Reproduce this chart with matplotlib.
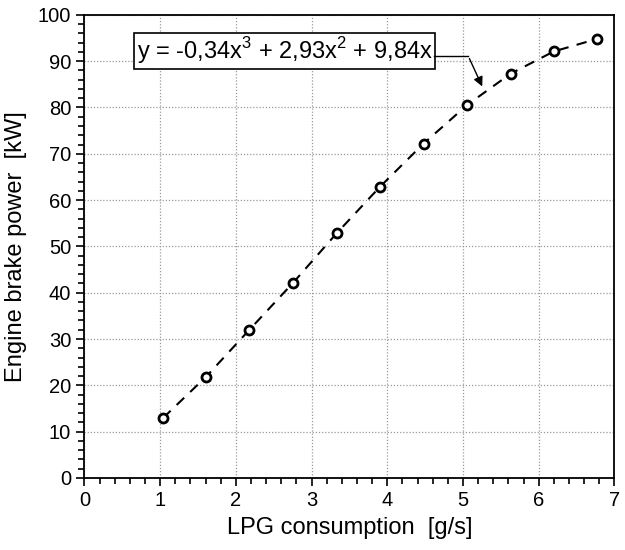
import matplotlib.pyplot as plt
from matplotlib.ticker import MultipleLocator

plt.rcParams['font.family'] = ['Liberation Sans', 'DejaVu Sans']
plt.rcParams['mathtext.fontset'] = 'custom'
plt.rcParams['mathtext.rm'] = 'Liberation Sans'

# measured points
lpg = [1.04, 1.61, 2.18, 2.76, 3.33, 3.90, 4.48, 5.06, 5.63, 6.20, 6.77]
power = [12.96, 21.9, 32.0, 42.2, 52.8, 62.8, 72.2, 80.6, 87.3, 92.1, 94.8]
eq_text = r"y = -0,34x$^{\mathrm{3}}$ + 2,93x$^{\mathrm{2}}$ + 9,84x"

fig = plt.figure(figsize=(6.25, 5.5), dpi=100)
ax = fig.add_axes([0.135, 0.131, 0.848, 0.842])

ax.plot(lpg, power, color='black', lw=1.5, ls=(0, (5, 4)), zorder=3)
ax.plot(lpg, power, 'o', ms=6.5, mfc='white', mec='black', mew=2, ls='none', zorder=4)

ax.set_xlim(0, 7)
ax.set_ylim(0, 100)
ax.xaxis.set_major_locator(MultipleLocator(1))
ax.xaxis.set_minor_locator(MultipleLocator(0.2))
ax.yaxis.set_major_locator(MultipleLocator(10))
ax.yaxis.set_minor_locator(MultipleLocator(2))
ax.tick_params(which='major', direction='out', length=6, width=1.2, labelsize=14.5)
ax.tick_params(which='minor', direction='out', length=4, width=1.2)
ax.grid(which='major', color='#9a9a9a', lw=0.9, ls=(0, (1, 1.5)))
ax.set_axisbelow(True)
for s in ax.spines.values():
    s.set_linewidth(1.3)

ax.set_xlabel('LPG consumption  [g/s]', fontsize=17, labelpad=5)
ax.set_ylabel('Engine brake power  [kW]', fontsize=17, labelpad=8)

# equation box + leader arrow
ax.text(0.69, 92.2, eq_text, fontsize=17, va='center', ha='left',
        bbox=dict(boxstyle='square,pad=0.12', fc='white', ec='black', lw=1.2), zorder=5)
ax.plot([4.62, 5.07], [91.1, 91.1], color='black', lw=1, zorder=5)
ax.annotate('', xy=(5.27, 84.0), xytext=(5.07, 91.1),
            arrowprops=dict(arrowstyle='-|>', color='black', lw=1, mutation_scale=14),
            zorder=5)

fig.savefig('out.png', dpi=100)
